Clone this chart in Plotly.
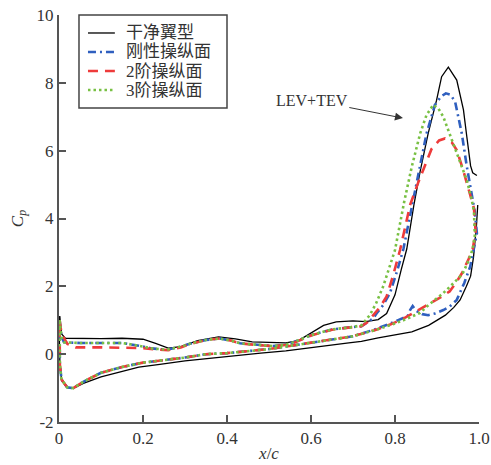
import plotly.graph_objects as go

# ---------------- data ----------------
# clean airfoil (black solid)
clean_up_x = [0.0015, 0.006, 0.015, 0.05, 0.10, 0.15, 0.20, 0.23, 0.26, 0.29, 0.33, 0.38, 0.42, 0.46, 0.50, 0.54,
              0.57, 0.60, 0.63, 0.66, 0.70, 0.73, 0.76, 0.78, 0.80, 0.815, 0.828, 0.845, 0.86, 0.879, 0.899, 0.911,
              0.927, 0.947, 0.963, 0.971, 0.975, 0.980, 0.985, 0.990, 0.995]
clean_up_cp = [1.12, 0.60, 0.47, 0.46, 0.46, 0.47, 0.44, 0.32, 0.18, 0.22, 0.40, 0.51, 0.45, 0.36, 0.34, 0.33,
               0.40, 0.62, 0.85, 0.95, 0.98, 0.96, 1.02, 1.20, 1.75, 2.50, 3.10, 4.40, 5.40, 6.51, 7.49, 8.18,
               8.46, 8.08, 7.20, 6.41, 6.00, 5.55, 5.35, 5.30, 5.27]
clean_lo_x = [0.997, 0.994, 0.987, 0.980, 0.970, 0.955, 0.940, 0.920, 0.880, 0.840, 0.760, 0.720, 0.690, 0.60,
              0.54, 0.48, 0.40, 0.35, 0.30, 0.24, 0.19, 0.10, 0.058, 0.034, 0.018, 0.006, 0.002, 0.0008, 0.0015]
clean_lo_cp = [4.40, 3.80, 2.87, 2.30, 2.00, 1.60, 1.38, 1.15, 0.85, 0.66, 0.48, 0.38, 0.33, 0.18,
               0.10, 0.03, -0.07, -0.13, -0.20, -0.30, -0.38, -0.67, -0.86, -1.01, -0.98, -0.77, -0.20, 0.50, 1.12]

# rigid control surface (blue dash-dot)
rigid_up_x = [0.0015, 0.006, 0.012, 0.05, 0.10, 0.15, 0.19, 0.22, 0.256, 0.29, 0.312, 0.35, 0.383, 0.41, 0.431,
              0.47, 0.51, 0.54, 0.56, 0.60, 0.65, 0.70, 0.72, 0.735, 0.748, 0.756, 0.772, 0.788, 0.805, 0.82,
              0.84, 0.86, 0.875, 0.895, 0.91, 0.921, 0.932, 0.943, 0.959, 0.971, 0.982, 0.990, 0.995]
rigid_up_cp = [1.00, 0.50, 0.35, 0.33, 0.33, 0.33, 0.25, 0.17, 0.13, 0.22, 0.31, 0.42, 0.46, 0.40, 0.32,
               0.27, 0.24, 0.28, 0.36, 0.56, 0.73, 0.80, 0.82, 0.95, 1.05, 1.20, 1.45, 1.80, 2.45, 3.10,
               4.30, 5.50, 6.50, 7.35, 7.60, 7.69, 7.65, 7.45, 6.51, 5.53, 4.80, 4.20, 3.56]
rigid_lo_x = [0.985, 0.979, 0.965, 0.947, 0.930, 0.915, 0.895, 0.879, 0.865, 0.850, 0.842, 0.836, 0.830, 0.800,
              0.788, 0.750, 0.70, 0.65, 0.60, 0.56, 0.50, 0.40, 0.35, 0.30, 0.25, 0.20, 0.15, 0.10, 0.06,
              0.034, 0.020, 0.006, 0.002, 0.0008, 0.0015]
rigid_lo_cp = [3.00, 2.58, 2.10, 1.60, 1.40, 1.30, 1.20, 1.15, 1.18, 1.28, 1.42, 1.30, 1.12, 0.95,
               0.90, 0.72, 0.53, 0.43, 0.33, 0.26, 0.15, 0.03, 0.00, -0.10, -0.17, -0.25, -0.38, -0.55, -0.80,
               -1.00, -0.98, -0.75, -0.30, 0.40, 1.00]

# 2nd-order control surface (red dashed)
second_up_x = [0.0015, 0.006, 0.02, 0.04, 0.10, 0.15, 0.20, 0.24, 0.26, 0.29, 0.312, 0.35, 0.383, 0.41, 0.431,
               0.47, 0.51, 0.54, 0.56, 0.60, 0.65, 0.70, 0.72, 0.735, 0.748, 0.765, 0.78, 0.795, 0.812, 0.836,
               0.855, 0.87, 0.887, 0.905, 0.919, 0.935, 0.947, 0.963, 0.979, 0.988, 0.992]
second_up_cp = [1.00, 0.60, 0.30, 0.20, 0.20, 0.20, 0.18, 0.13, 0.12, 0.20, 0.30, 0.42, 0.46, 0.40, 0.32,
                0.27, 0.24, 0.27, 0.34, 0.55, 0.72, 0.80, 0.82, 0.95, 1.15, 1.40, 1.70, 2.30, 3.07, 4.40,
                5.05, 5.50, 6.05, 6.30, 6.36, 6.25, 6.02, 5.40, 4.74, 4.30, 3.60]
second_lo_x = [0.985, 0.975, 0.960, 0.945, 0.930, 0.905, 0.883, 0.850, 0.820, 0.790, 0.750, 0.70, 0.65, 0.60,
               0.56, 0.50, 0.40, 0.35, 0.30, 0.25, 0.20, 0.15, 0.10, 0.06, 0.034, 0.020, 0.006, 0.002, 0.0008,
               0.0015]
second_lo_cp = [3.10, 2.80, 2.40, 2.10, 1.85, 1.65, 1.49, 1.25, 1.05, 0.88, 0.70, 0.53, 0.43, 0.33,
                0.26, 0.15, 0.03, 0.00, -0.10, -0.17, -0.25, -0.38, -0.55, -0.80, -1.00, -0.98, -0.75, -0.30,
                0.40, 1.00]

# 3rd-order control surface (green dotted)
third_up_x = [0.0015, 0.006, 0.012, 0.05, 0.10, 0.15, 0.19, 0.22, 0.256, 0.29, 0.312, 0.35, 0.383, 0.41, 0.431,
              0.47, 0.51, 0.54, 0.56, 0.60, 0.65, 0.70, 0.72, 0.74, 0.755, 0.772, 0.787, 0.80, 0.822, 0.84,
              0.86, 0.875, 0.891, 0.903, 0.915, 0.939, 0.955, 0.971, 0.982, 0.988, 0.990]
third_up_cp = [1.00, 0.50, 0.35, 0.33, 0.33, 0.33, 0.25, 0.17, 0.13, 0.22, 0.31, 0.42, 0.46, 0.40, 0.32,
               0.27, 0.24, 0.28, 0.36, 0.56, 0.73, 0.80, 0.85, 1.15, 1.50, 2.00, 2.55, 3.07, 4.50, 5.53,
               6.51, 7.05, 7.35, 7.25, 7.00, 6.21, 5.70, 5.13, 4.60, 4.20, 3.50]
third_lo_x = [0.985, 0.975, 0.960, 0.939, 0.915, 0.880, 0.860, 0.820, 0.790, 0.750, 0.70, 0.65, 0.60, 0.56,
              0.50, 0.40, 0.35, 0.30, 0.25, 0.20, 0.15, 0.10, 0.06, 0.034, 0.020, 0.006, 0.002, 0.0008, 0.0015]
third_lo_cp = [3.10, 2.75, 2.35, 2.09, 1.80, 1.45, 1.22, 1.00, 0.86, 0.70, 0.53, 0.43, 0.33, 0.26,
               0.15, 0.03, 0.00, -0.10, -0.17, -0.25, -0.38, -0.55, -0.80, -1.00, -0.98, -0.75, -0.30, 0.40,
               1.00]

series_names = ["干净翼型", "刚性操纵面", "2阶操纵面", "3阶操纵面"]
x_ticks = [0, 0.2, 0.4, 0.6, 0.8, 1.0]
x_tick_labels = ["0", "0.2", "0.4", "0.6", "0.8", "1.0"]
y_ticks = [-2, 0, 2, 4, 6, 8, 10]
y_tick_labels = ["-2", "0", "2", "4", "6", "8", "10"]
annot_text = "LEV+TEV"
annot_head = (0.819, 6.96)
annot_text_pos = (0.602, 7.49)

# ---------------- figure ----------------
SERIF = "'Liberation Serif', 'Times New Roman', 'Noto Sans CJK SC', serif"
TXT = "#333333"

styles = [
    dict(color="black", width=1.3, dash="solid"),
    dict(color="#2f5fbf", width=2.6, dash="8px,4px,2px,4px"),
    dict(color="#ee3b3b", width=2.6, dash="10px,7px"),
    dict(color="#78c043", width=2.6, dash="2.5px,3px"),
]
xs = [clean_up_x + [None] + clean_lo_x, rigid_up_x + rigid_lo_x,
      second_up_x + second_lo_x, third_up_x + third_lo_x]
ys = [clean_up_cp + [None] + clean_lo_cp, rigid_up_cp + rigid_lo_cp,
      second_up_cp + second_lo_cp, third_up_cp + third_lo_cp]

fig = go.Figure()
for name, x, y, st in zip(series_names, xs, ys, styles):
    fig.add_trace(go.Scatter(x=x, y=y, mode="lines", name=name, connectgaps=False, line=st))

fig.add_annotation(
    x=annot_head[0], y=annot_head[1], ax=annot_text_pos[0], ay=annot_text_pos[1],
    axref="x", ayref="y", xref="x", yref="y",
    text=annot_text, showarrow=True, arrowhead=2, arrowsize=1.6, arrowwidth=1,
    arrowcolor=TXT, font=dict(family=SERIF, size=16, color=TXT))

# legend box drawn in paper coordinates (compact row spacing as in the reference)
leg_x0, leg_x1, leg_y0, leg_y1 = 0.0476, 0.40, 0.7715, 1.0
fig.add_shape(type="rect", xref="paper", yref="paper", x0=leg_x0, x1=leg_x1, y0=leg_y0, y1=leg_y1,
              line=dict(color="#444444", width=1.5), fillcolor="white", layer="above")
row_y = [0.9558, 0.9091, 0.8624, 0.8157]
for name, st, ry in zip(series_names, styles, row_y):
    fig.add_shape(type="line", xref="paper", yref="paper", x0=0.069, x1=0.133, y0=ry, y1=ry,
                  line=st, layer="above")
    fig.add_annotation(xref="paper", yref="paper", x=0.155, y=ry, xanchor="left", yanchor="middle",
                       text=name, showarrow=False,
                       font=dict(family=SERIF, size=17, color=TXT))

axis_common = dict(
    showline=True, linecolor="#555555", linewidth=2, ticks="inside", ticklen=7,
    tickwidth=1.5, tickcolor="#555555", showgrid=False, zeroline=False, mirror=False,
    automargin=False, ticklabeloverflow="allow",
    tickfont=dict(family=SERIF, size=17, color=TXT))

fig.update_xaxes(range=[0, 1.0], tickvals=x_ticks, ticktext=x_tick_labels,
                 title=dict(text="<i>x</i>/<i>c</i>", font=dict(family=SERIF, size=17, color=TXT),
                            standoff=0),
                 **axis_common)
fig.update_yaxes(range=[-2, 10], tickvals=y_ticks, ticktext=y_tick_labels,
                 title=dict(text="<i>C<sub>p</sub></i>", font=dict(family=SERIF, size=17, color=TXT),
                            standoff=9),
                 **axis_common)

fig.update_layout(
    width=491, height=465,
    margin=dict(l=59, r=12, t=15, b=43, autoexpand=False),
    plot_bgcolor="white", paper_bgcolor="white",
    showlegend=False,
)

fig.write_html("out.html", config={"displayModeBar": False},
               post_script="document.body.style.margin='0px';")
